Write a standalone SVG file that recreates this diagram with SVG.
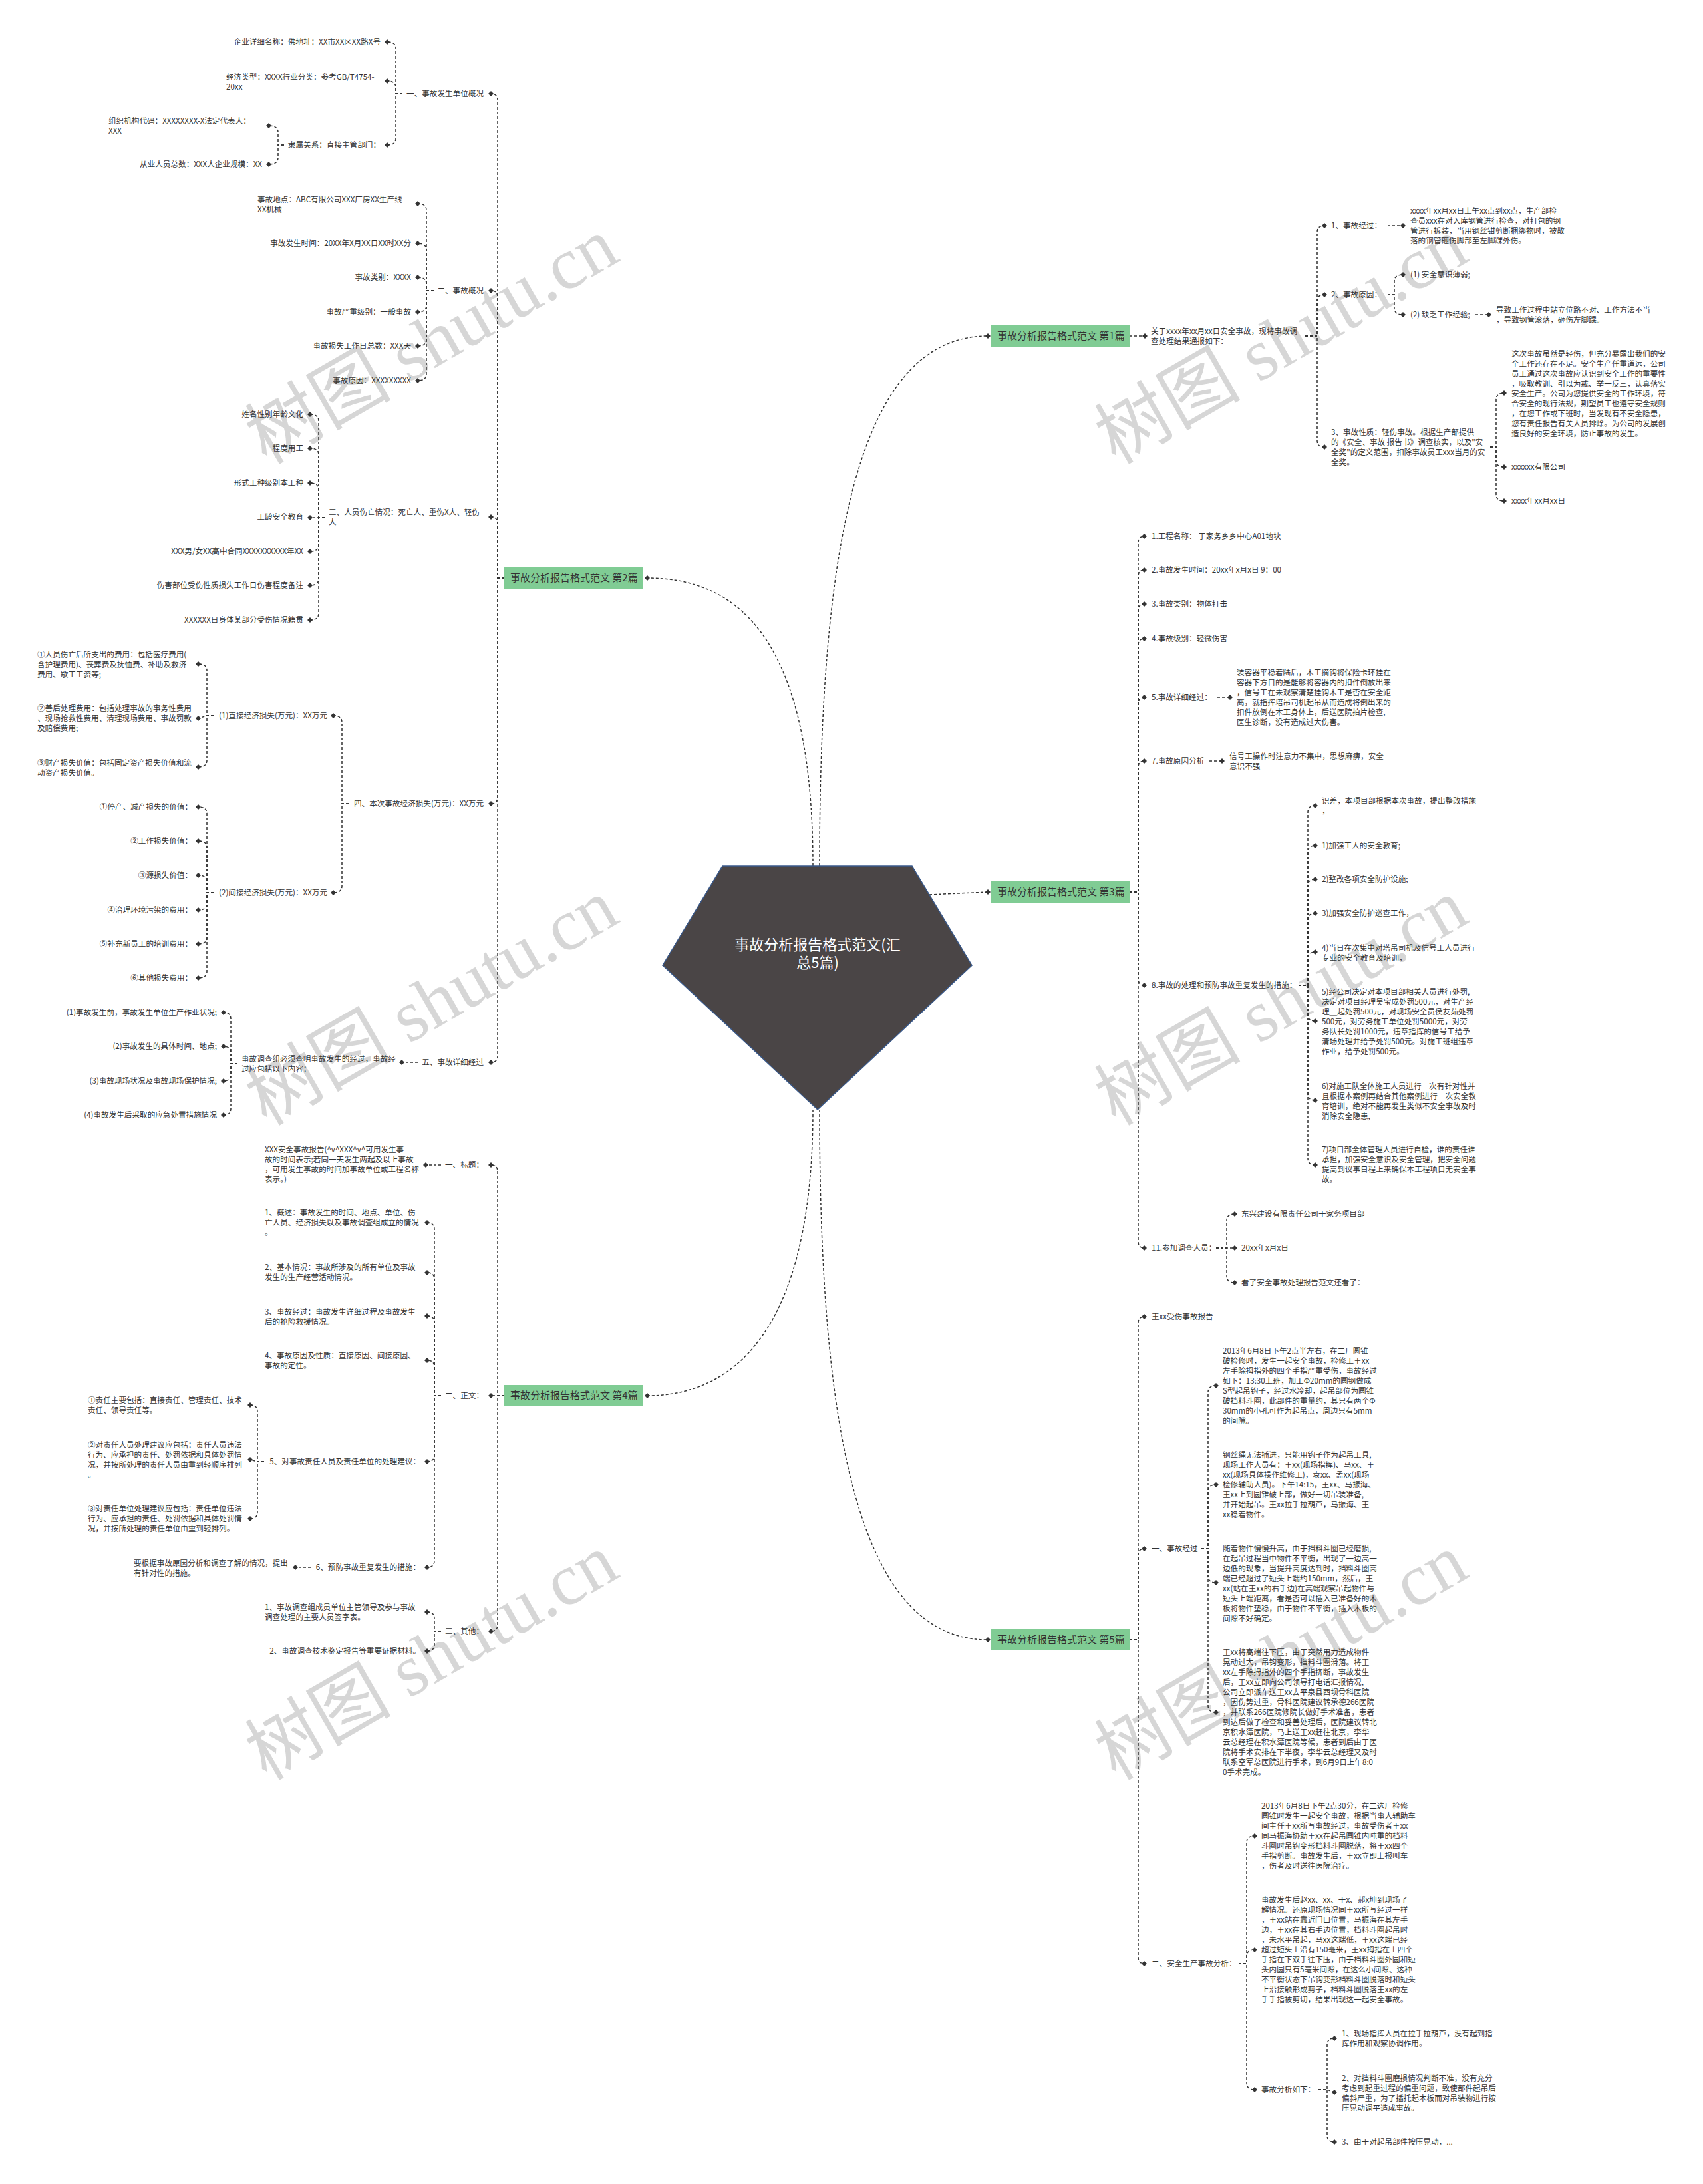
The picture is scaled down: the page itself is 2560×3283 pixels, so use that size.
<svg xmlns="http://www.w3.org/2000/svg" width="2560" height="3283" viewBox="0 0 2560 3283">
<defs>
<style>
.t{font-family:"Noto Sans CJK SC","Liberation Sans",sans-serif;font-size:11.6px;fill:#333}
.e{text-anchor:end}
.c{fill:none;stroke:#333;stroke-width:1.5;stroke-dasharray:4 3;marker-end:url(#d)}
.g{fill:#80cc94}
.gt{font-family:"Noto Sans CJK SC","Liberation Sans",sans-serif;font-size:15px;fill:#333}
.wm{font-family:"Liberation Serif","Noto Sans CJK SC",serif;font-size:110px;fill:#d6d6d6;text-anchor:middle}
</style>
<marker id="d" viewBox="0 0 10 10" refX="5" refY="5" markerWidth="8" markerHeight="8" markerUnits="userSpaceOnUse" orient="0">
<path d="M5,0L10,5L5,10L0,5Z" fill="#333"/>
</marker>
</defs>
<rect width="2560" height="3283" fill="#fff"/>
<g id="watermarks">
<text class="wm" x="649" y="550" transform="rotate(-30 649 513)">树图 shutu.cn</text>
<text class="wm" x="1926" y="550" transform="rotate(-30 1926 513)">树图 shutu.cn</text>
<text class="wm" x="649" y="1544" transform="rotate(-30 649 1507)">树图 shutu.cn</text>
<text class="wm" x="1926" y="1544" transform="rotate(-30 1926 1507)">树图 shutu.cn</text>
<text class="wm" x="649" y="2528" transform="rotate(-30 649 2491)">树图 shutu.cn</text>
<text class="wm" x="1926" y="2528" transform="rotate(-30 1926 2491)">树图 shutu.cn</text>
</g>
<g id="connectors">
<path class="c" d="M1222,1302C1222,960 1110,869 973,869"/>
<path class="c" d="M1232,1302C1232,820 1290,505 1485,505"/>
<path class="c" d="M1397,1345L1485,1341"/>
<path class="c" d="M1222,1668C1222,1990 1110,2098 973,2098"/>
<path class="c" d="M1232,1668C1232,2150 1290,2465 1485,2465"/>
<path class="c" d="M758,869H748V151Q748,141 738,141"/>
<path class="c" d="M758,869H748V447Q748,437 738,437"/>
<path class="c" d="M758,869H748V787Q748,777 738,777"/>
<path class="c" d="M758,869H748V1198Q748,1208 738,1208"/>
<path class="c" d="M758,869H748V1587Q748,1597 738,1597"/>
<path class="c" d="M605,141H595V73Q595,63 582,63"/>
<path class="c" d="M605,141H595V132Q595,122 582,122"/>
<path class="c" d="M605,141H595V208Q595,218 582,218"/>
<path class="c" d="M427,218H418V199Q418,189 404,189"/>
<path class="c" d="M427,218H418V237Q418,247 404,247"/>
<path class="c" d="M652,437H641V316Q641,306 628,306"/>
<path class="c" d="M652,437H641V376Q641,366 628,366"/>
<path class="c" d="M652,437H641V427Q641,417 628,417"/>
<path class="c" d="M652,437H641V459Q641,469 628,469"/>
<path class="c" d="M652,437H641V510Q641,520 628,520"/>
<path class="c" d="M652,437H641V562Q641,572 628,572"/>
<path class="c" d="M488,778H479V633Q479,623 466,623"/>
<path class="c" d="M488,778H479V684Q479,674 466,674"/>
<path class="c" d="M488,778H479V736Q479,726 466,726"/>
<path class="c" d="M488,778H466"/>
<path class="c" d="M488,778H479V819Q479,829 466,829"/>
<path class="c" d="M488,778H479V870Q479,880 466,880"/>
<path class="c" d="M488,778H479V922Q479,932 466,932"/>
<path class="c" d="M524,1208H514V1086Q514,1076 501,1076"/>
<path class="c" d="M524,1208H514V1332Q514,1342 501,1342"/>
<path class="c" d="M321,1076H311V1008Q311,998 298,998"/>
<path class="c" d="M321,1076H311L298,1080"/>
<path class="c" d="M321,1076H311V1143Q311,1153 298,1153"/>
<path class="c" d="M321,1342H311V1223Q311,1213 298,1213"/>
<path class="c" d="M321,1342H311V1274Q311,1264 298,1264"/>
<path class="c" d="M321,1342H311V1326Q311,1316 298,1316"/>
<path class="c" d="M321,1342H311V1358Q311,1368 298,1368"/>
<path class="c" d="M321,1342H311V1409Q311,1419 298,1419"/>
<path class="c" d="M321,1342H311V1460Q311,1470 298,1470"/>
<path class="c" d="M628,1597H604"/>
<path class="c" d="M357,1599H347V1532Q347,1522 336,1522"/>
<path class="c" d="M357,1599H347V1583Q347,1573 336,1573"/>
<path class="c" d="M357,1599H347V1615Q347,1625 336,1625"/>
<path class="c" d="M357,1599H347V1666Q347,1676 336,1676"/>
<path class="c" d="M758,2098H748V1761Q748,1751 738,1751"/>
<path class="c" d="M758,2098H738"/>
<path class="c" d="M758,2098H748V2442Q748,2452 738,2452"/>
<path class="c" d="M663,1751H640"/>
<path class="c" d="M663,2098H653V1848Q653,1838 642,1838"/>
<path class="c" d="M663,2098H653V1923Q653,1913 642,1913"/>
<path class="c" d="M663,2098H653V1988Q653,1978 642,1978"/>
<path class="c" d="M663,2098H653V2055Q653,2045 642,2045"/>
<path class="c" d="M663,2098H653V2187Q653,2197 642,2197"/>
<path class="c" d="M663,2098H653V2346Q653,2356 642,2356"/>
<path class="c" d="M397,2197H387V2122Q387,2112 376,2112"/>
<path class="c" d="M397,2197H387L376,2194"/>
<path class="c" d="M397,2197H387V2273Q387,2283 376,2283"/>
<path class="c" d="M467,2356H444"/>
<path class="c" d="M663,2452H653V2433Q653,2423 642,2423"/>
<path class="c" d="M663,2452H653V2472Q653,2482 642,2482"/>
<path class="c" d="M1698,505H1721"/>
<path class="c" d="M1962,505H1980V349Q1980,339 1991,339"/>
<path class="c" d="M1962,505H1980V453Q1980,443 1991,443"/>
<path class="c" d="M1962,505H1980V662Q1980,672 1991,672"/>
<path class="c" d="M2086,339H2109"/>
<path class="c" d="M2086,443H2096V423Q2096,413 2109,413"/>
<path class="c" d="M2086,443H2096V463Q2096,473 2109,473"/>
<path class="c" d="M2218,473H2238"/>
<path class="c" d="M2240,672H2249V601Q2249,591 2261,591"/>
<path class="c" d="M2240,672H2249V692Q2249,702 2261,702"/>
<path class="c" d="M2240,672H2249V743Q2249,753 2261,753"/>
<path class="c" d="M1698,1341H1711V816Q1711,806 1720,806"/>
<path class="c" d="M1698,1341H1711V867Q1711,857 1720,857"/>
<path class="c" d="M1698,1341H1711V918Q1711,908 1720,908"/>
<path class="c" d="M1698,1341H1711V970Q1711,960 1720,960"/>
<path class="c" d="M1698,1341H1711V1058Q1711,1048 1720,1048"/>
<path class="c" d="M1698,1341H1711V1154Q1711,1144 1720,1144"/>
<path class="c" d="M1698,1341H1711V1471Q1711,1481 1720,1481"/>
<path class="c" d="M1698,1341H1711V1866Q1711,1876 1720,1876"/>
<path class="c" d="M1830,1048H1849"/>
<path class="c" d="M1818,1144H1837"/>
<path class="c" d="M1952,1481H1966V1221Q1966,1211 1977,1211"/>
<path class="c" d="M1952,1481H1966V1281Q1966,1271 1977,1271"/>
<path class="c" d="M1952,1481H1966V1332Q1966,1322 1977,1322"/>
<path class="c" d="M1952,1481H1966V1383Q1966,1373 1977,1373"/>
<path class="c" d="M1952,1481H1966V1441Q1966,1431 1977,1431"/>
<path class="c" d="M1952,1481H1966V1525Q1966,1535 1977,1535"/>
<path class="c" d="M1952,1481H1966V1644Q1966,1654 1977,1654"/>
<path class="c" d="M1952,1481H1966V1741Q1966,1751 1977,1751"/>
<path class="c" d="M1828,1876H1844V1835Q1844,1825 1856,1825"/>
<path class="c" d="M1828,1876H1856"/>
<path class="c" d="M1828,1876H1844V1918Q1844,1928 1856,1928"/>
<path class="c" d="M1698,2465H1711V1989Q1711,1979 1720,1979"/>
<path class="c" d="M1698,2465H1711V2338Q1711,2328 1720,2328"/>
<path class="c" d="M1698,2465H1711V2942Q1711,2952 1720,2952"/>
<path class="c" d="M1806,2328H1816V2093Q1816,2083 1828,2083"/>
<path class="c" d="M1806,2328H1816V2242Q1816,2232 1828,2232"/>
<path class="c" d="M1806,2328H1816V2369Q1816,2379 1828,2379"/>
<path class="c" d="M1806,2328H1816V2564Q1816,2574 1828,2574"/>
<path class="c" d="M1862,2952H1874V2770Q1874,2760 1886,2760"/>
<path class="c" d="M1862,2952H1874V2941Q1874,2931 1886,2931"/>
<path class="c" d="M1862,2952H1874V3131Q1874,3141 1886,3141"/>
<path class="c" d="M1982,3141H1995V3074Q1995,3064 2006,3064"/>
<path class="c" d="M1982,3141H1995L2006,3145"/>
<path class="c" d="M1982,3141H1995V3210Q1995,3220 2006,3220"/>
</g>
<g id="center">
<polygon points="1086,1302 1371,1302 1461,1451 1229,1668 996,1451" fill="#4a4546" stroke="#3a5a8c" stroke-width="1.5"/>
<text x="1229" y="1428" text-anchor="middle" font-family="Noto Sans CJK SC, Liberation Sans, sans-serif" font-size="22" fill="#fff"><tspan x="1229">事故分析报告格式范文(汇</tspan><tspan x="1229" dy="27">总5篇)</tspan></text>
</g>
<g id="b1"><rect class="g" x="1490" y="489" width="208" height="32"/><text class="gt" x="1499" y="510">事故分析报告格式范文 第1篇</text></g>
<g id="b2"><rect class="g" x="758" y="853" width="209" height="32"/><text class="gt" x="767" y="874">事故分析报告格式范文 第2篇</text></g>
<g id="b3"><rect class="g" x="1490" y="1325" width="208" height="32"/><text class="gt" x="1499" y="1346">事故分析报告格式范文 第3篇</text></g>
<g id="b4"><rect class="g" x="758" y="2082" width="209" height="32"/><text class="gt" x="767" y="2103">事故分析报告格式范文 第4篇</text></g>
<g id="b5"><rect class="g" x="1490" y="2449" width="208" height="32"/><text class="gt" x="1499" y="2470">事故分析报告格式范文 第5篇</text></g>
<g id="p2-nodes">
<text id="a1" class="t e" x="727" y="145">一、事故发生单位概况</text>
<text id="a2" class="t e" x="727" y="441">二、事故概况</text>
<text id="a3" class="t" x="494" y="774"><tspan x="494">三、人员伤亡情况：死亡人、重伤X人、轻伤</tspan><tspan x="494" dy="15">人</tspan></text>
<text id="a4" class="t e" x="727" y="1212">四、本次事故经济损失(万元)：XX万元</text>
<text id="a5" class="t e" x="727" y="1601">五、事故详细经过</text>
<text class="t e" x="572" y="67">企业详细名称：佛地址：XX市XX区XX路X号</text>
<text class="t" x="340" y="120"><tspan x="340">经济类型：XXXX行业分类：参考GB/T4754-</tspan><tspan x="340" dy="15">20xx</tspan></text>
<text class="t e" x="572" y="222">隶属关系：直接主管部门：</text>
<text class="t" x="163" y="186"><tspan x="163">组织机构代码：XXXXXXXX-X法定代表人：</tspan><tspan x="163" dy="15">XXX</tspan></text>
<text class="t e" x="394" y="251">从业人员总数：XXX人企业规模：XX</text>
<text class="t" x="387" y="304"><tspan x="387">事故地点：ABC有限公司XXX厂房XX生产线</tspan><tspan x="387" dy="15">XX机械</tspan></text>
<text class="t e" x="618" y="370">事故发生时间：20XX年X月XX日XX时XX分</text>
<text class="t e" x="618" y="421">事故类别：XXXX</text>
<text class="t e" x="618" y="473">事故严重级别：一般事故</text>
<text class="t e" x="618" y="524">事故损失工作日总数：XXX天</text>
<text class="t e" x="618" y="576">事故原因：XXXXXXXXX</text>
<text class="t e" x="456" y="627">姓名性别年龄文化</text>
<text class="t e" x="456" y="678">程度用工</text>
<text class="t e" x="456" y="730">形式工种级别本工种</text>
<text class="t e" x="456" y="781">工龄安全教育</text>
<text class="t e" x="456" y="833">XXX男/女XX高中合同XXXXXXXXXX年XX</text>
<text class="t e" x="456" y="884">伤害部位受伤性质损失工作日伤害程度备注</text>
<text class="t e" x="456" y="936">XXXXXX日身体某部分受伤情况籍贯</text>
<text class="t e" x="492" y="1080">(1)直接经济损失(万元)：XX万元</text>
<text class="t e" x="492" y="1346">(2)间接经济损失(万元)：XX万元</text>
<text class="t" x="56" y="988"><tspan x="56">①人员伤亡后所支出的费用：包括医疗费用(</tspan><tspan x="56" dy="15">含护理费用)、丧葬费及抚恤费、补助及救济</tspan><tspan x="56" dy="15">费用、歇工工资等;</tspan></text>
<text class="t" x="56" y="1069"><tspan x="56">②善后处理费用：包括处理事故的事务性费用</tspan><tspan x="56" dy="15">、现场抢救性费用、清理现场费用、事故罚款</tspan><tspan x="56" dy="15">及赔偿费用;</tspan></text>
<text class="t" x="56" y="1151"><tspan x="56">③财产损失价值：包括固定资产损失价值和流</tspan><tspan x="56" dy="15">动资产损失价值。</tspan></text>
<text class="t e" x="289" y="1217">①停产、减产损失的价值：</text>
<text class="t e" x="289" y="1268">②工作损失价值：</text>
<text class="t e" x="289" y="1320">③源损失价值：</text>
<text class="t e" x="289" y="1372">④治理环境污染的费用：</text>
<text class="t e" x="289" y="1423">⑤补充新员工的培训费用：</text>
<text class="t e" x="289" y="1474">⑥其他损失费用：</text>
<text class="t" x="363" y="1596"><tspan x="363">事故调查组必须查明事故发生的经过，事故经</tspan><tspan x="363" dy="15">过应包括以下内容：</tspan></text>
<text class="t e" x="326" y="1526">(1)事故发生前，事故发生单位生产作业状况;</text>
<text class="t e" x="326" y="1577">(2)事故发生的具体时间、地点;</text>
<text class="t e" x="326" y="1629">(3)事故现场状况及事故现场保护情况;</text>
<text class="t e" x="326" y="1680">(4)事故发生后采取的应急处置措施情况</text>
</g>
<g id="p4-nodes">
<text class="t e" x="727" y="1755">一、标题：</text>
<text class="t e" x="727" y="2102">二、正文：</text>
<text class="t e" x="727" y="2456">三、其他：</text>
<text class="t" x="398" y="1732"><tspan x="398">XXX安全事故报告(^v^XXX^v^可用发生事</tspan><tspan x="398" dy="15">故的时间表示;若同一天发生两起及以上事故</tspan><tspan x="398" dy="15">，可用发生事故的时间加事故单位或工程名称</tspan><tspan x="398" dy="15">表示。)</tspan></text>
<text class="t" x="398" y="1827"><tspan x="398">1、概述：事故发生的时间、地点、单位、伤</tspan><tspan x="398" dy="15">亡人员、经济损失以及事故调查组成立的情况</tspan><tspan x="398" dy="15">。</tspan></text>
<text class="t" x="398" y="1909"><tspan x="398">2、基本情况：事故所涉及的所有单位及事故</tspan><tspan x="398" dy="15">发生的生产经营活动情况。</tspan></text>
<text class="t" x="398" y="1976"><tspan x="398">3、事故经过：事故发生详细过程及事故发生</tspan><tspan x="398" dy="15">后的抢险救援情况。</tspan></text>
<text class="t" x="398" y="2042"><tspan x="398">4、事故原因及性质：直接原因、间接原因、</tspan><tspan x="398" dy="15">事故的定性。</tspan></text>
<text class="t e" x="632" y="2201">5、对事故责任人员及责任单位的处理建议：</text>
<text class="t e" x="632" y="2360">6、预防事故重复发生的措施：</text>
<text class="t" x="132" y="2109"><tspan x="132">①责任主要包括：直接责任、管理责任、技术</tspan><tspan x="132" dy="15">责任、领导责任等。</tspan></text>
<text class="t" x="132" y="2176"><tspan x="132">②对责任人员处理建议应包括：责任人员违法</tspan><tspan x="132" dy="15">行为、应承担的责任、处罚依据和具体处罚情</tspan><tspan x="132" dy="15">况，并按所处理的责任人员由重到轻顺序排列</tspan><tspan x="132" dy="15">。</tspan></text>
<text class="t" x="132" y="2272"><tspan x="132">③对责任单位处理建议应包括：责任单位违法</tspan><tspan x="132" dy="15">行为、应承担的责任、处罚依据和具体处罚情</tspan><tspan x="132" dy="15">况，并按所处理的责任单位由重到轻排列。</tspan></text>
<text class="t" x="201" y="2354"><tspan x="201">要根据事故原因分析和调查了解的情况，提出</tspan><tspan x="201" dy="15">有针对性的措施。</tspan></text>
<text class="t" x="398" y="2420"><tspan x="398">1、事故调查组成员单位主管领导及参与事故</tspan><tspan x="398" dy="15">调查处理的主要人员签字表。</tspan></text>
<text class="t e" x="632" y="2486">2、事故调查技术鉴定报告等重要证据材料。</text>
</g>
<g id="p1-nodes">
<text class="t" x="1730" y="502"><tspan x="1730">关于xxxx年xx月xx日安全事故，现将事故调</tspan><tspan x="1730" dy="15">查处理结果通报如下：</tspan></text>
<text class="t" x="2001" y="343">1、事故经过：</text>
<text class="t" x="2120" y="321"><tspan x="2120">xxxx年xx月xx日上午xx点到xx点，生产部检</tspan><tspan x="2120" dy="15">查员xxx在对入库钢管进行检查，对打包的钢</tspan><tspan x="2120" dy="15">管进行拆装，当用钢丝钳剪断捆绑物时，被散</tspan><tspan x="2120" dy="15">落的钢管砸伤脚部至左脚踝外伤。</tspan></text>
<text class="t" x="2001" y="447">2、事故原因：</text>
<text class="t" x="2120" y="417">(1) 安全意识薄弱;</text>
<text class="t" x="2120" y="477">(2) 缺乏工作经验;</text>
<text class="t" x="2249" y="470"><tspan x="2249">导致工作过程中站立位路不对、工作方法不当</tspan><tspan x="2249" dy="15">，导致钢管滚落，砸伤左脚踝。</tspan></text>
<text class="t" x="2001" y="654"><tspan x="2001">3、事故性质：轻伤事故。根据生产部提供</tspan><tspan x="2001" dy="15">的《安全、事故 报告书》调查核实，以及"安</tspan><tspan x="2001" dy="15">全奖"的定义范围，扣除事故员工xxx当月的安</tspan><tspan x="2001" dy="15">全奖。</tspan></text>
<text class="t" x="2272" y="536"><tspan x="2272">这次事故虽然是轻伤，但充分暴露出我们的安</tspan><tspan x="2272" dy="15">全工作还存在不足。安全生产任重道远，公司</tspan><tspan x="2272" dy="15">员工通过这次事故应认识到安全工作的重要性</tspan><tspan x="2272" dy="15">，吸取教训、引以为戒、举一反三，认真落实</tspan><tspan x="2272" dy="15">安全生产。公司为您提供安全的工作环境，符</tspan><tspan x="2272" dy="15">合安全的现行法规，期望员工也遵守安全规则</tspan><tspan x="2272" dy="15">，在您工作或下班时，当发现有不安全隐患，</tspan><tspan x="2272" dy="15">您有责任报告有关人员排除。为公司的发展创</tspan><tspan x="2272" dy="15">造良好的安全环境，防止事故的发生。</tspan></text>
<text class="t" x="2272" y="706">xxxxxx有限公司</text>
<text class="t" x="2272" y="757">xxxx年xx月xx日</text>
</g>
<g id="p3-nodes">
<text class="t" x="1731" y="810">1.工程名称： 于家务乡乡中心A01地块</text>
<text class="t" x="1731" y="861">2.事故发生时间：20xx年x月x日 9：00</text>
<text class="t" x="1731" y="912">3.事故类别：物体打击</text>
<text class="t" x="1731" y="964">4.事故级别：轻微伤害</text>
<text class="t" x="1731" y="1052">5.事故详细经过：</text>
<text class="t" x="1859" y="1015"><tspan x="1859">装容器平稳着陆后，木工摘钩将保险卡环挂在</tspan><tspan x="1859" dy="15">容器下方目的是能够将容器内的扣件倒放出来</tspan><tspan x="1859" dy="15">，信号工在未观察清楚挂钩木工是否在安全距</tspan><tspan x="1859" dy="15">离，就指挥塔吊司机起吊从而造成将倒出来的</tspan><tspan x="1859" dy="15">扣件放倒在木工身体上，后送医院拍片检查,</tspan><tspan x="1859" dy="15">医生诊断，没有造成过大伤害。</tspan></text>
<text class="t" x="1731" y="1148">7.事故原因分析</text>
<text class="t" x="1848" y="1141"><tspan x="1848">信号工操作时注意力不集中，思想麻痹，安全</tspan><tspan x="1848" dy="15">意识不强</tspan></text>
<text class="t" x="1731" y="1485">8.事故的处理和预防事故重复发生的措施：</text>
<text class="t" x="1987" y="1208"><tspan x="1987">识差，本项目部根据本次事故，提出整改措施</tspan><tspan x="1987" dy="15">，</tspan></text>
<text class="t" x="1987" y="1275">1)加强工人的安全教育;</text>
<text class="t" x="1987" y="1326">2)整改各项安全防护设施;</text>
<text class="t" x="1987" y="1377">3)加强安全防护巡查工作，</text>
<text class="t" x="1987" y="1429"><tspan x="1987">4)当日在次集中对塔吊司机及信号工人员进行</tspan><tspan x="1987" dy="15">专业的安全教育及培训，</tspan></text>
<text class="t" x="1987" y="1495"><tspan x="1987">5)经公司决定对本项目部相关人员进行处罚,</tspan><tspan x="1987" dy="15">决定对项目经理吴宝成处罚500元，对生产经</tspan><tspan x="1987" dy="15">理＿起处罚500元，对现场安全员侯友茹处罚</tspan><tspan x="1987" dy="15">500元，对劳务施工单位处罚5000元，对劳</tspan><tspan x="1987" dy="15">务队长处罚1000元，违章指挥的信号工给予</tspan><tspan x="1987" dy="15">清场处理并给予处罚500元。对施工班组违章</tspan><tspan x="1987" dy="15">作业，给予处罚500元。</tspan></text>
<text class="t" x="1987" y="1637"><tspan x="1987">6)对施工队全体施工人员进行一次有针对性并</tspan><tspan x="1987" dy="15">且根据本案例再结合其他案例进行一次安全教</tspan><tspan x="1987" dy="15">育培训，绝对不能再发生类似不安全事故及时</tspan><tspan x="1987" dy="15">消除安全隐患,</tspan></text>
<text class="t" x="1987" y="1732"><tspan x="1987">7)项目部全体管理人员进行自检，谁的责任谁</tspan><tspan x="1987" dy="15">承担，加强安全意识及安全管理，把安全问题</tspan><tspan x="1987" dy="15">提高到议事日程上来确保本工程项目无安全事</tspan><tspan x="1987" dy="15">故。</tspan></text>
<text class="t" x="1731" y="1880">11.参加调查人员：</text>
<text class="t" x="1866" y="1829">东兴建设有限责任公司于家务项目部</text>
<text class="t" x="1866" y="1880">20xx年x月x日</text>
<text class="t" x="1866" y="1932">看了安全事故处理报告范文还看了：</text>
</g>
<g id="p5-nodes">
<text class="t" x="1731" y="1983">王xx受伤事故报告</text>
<text class="t" x="1731" y="2332">一、事故经过</text>
<text class="t" x="1838" y="2035"><tspan x="1838">2013年6月8日下午2点半左右，在二厂圆锥</tspan><tspan x="1838" dy="15">破检修时，发生一起安全事故，检修工王xx</tspan><tspan x="1838" dy="15">左手除拇指外的四个手指严重受伤，事故经过</tspan><tspan x="1838" dy="15">如下：13:30上班，加工Φ20mm的圆钢做成</tspan><tspan x="1838" dy="15">S型起吊钩子，经过水冷却，起吊部位为圆锥</tspan><tspan x="1838" dy="15">破挡料斗圈，此部件的重量约，其只有两个Φ</tspan><tspan x="1838" dy="15">30mm的小孔可作为起吊点，周边只有5mm</tspan><tspan x="1838" dy="15">的间隙。</tspan></text>
<text class="t" x="1838" y="2191"><tspan x="1838">钢丝绳无法插进，只能用钩子作为起吊工具,</tspan><tspan x="1838" dy="15">现场工作人员有：王xx(现场指挥)、马xx、王</tspan><tspan x="1838" dy="15">xx(现场具体操作维修工)，袁xx、孟xx(现场</tspan><tspan x="1838" dy="15">检修辅助人员)。下午14:15，王xx、马振海、</tspan><tspan x="1838" dy="15">王xx上到圆锥破上部，做好一切吊装准备,</tspan><tspan x="1838" dy="15">并开始起吊。王xx拉手拉葫芦，马振海、王</tspan><tspan x="1838" dy="15">xx稳着物件。</tspan></text>
<text class="t" x="1838" y="2332"><tspan x="1838">随着物件慢慢升高，由于挡料斗圈已经磨损,</tspan><tspan x="1838" dy="15">在起吊过程当中物件不平衡，出现了一边高一</tspan><tspan x="1838" dy="15">边低的现象，当提升高度达到时，挡料斗圈高</tspan><tspan x="1838" dy="15">端已经超过了短头上端约150mm，然后，王</tspan><tspan x="1838" dy="15">xx(站在王xx的右手边)在高端观察吊起物件与</tspan><tspan x="1838" dy="15">短头上端距离，看是否可以插入已准备好的木</tspan><tspan x="1838" dy="15">板将物件垫稳，由于物件不平衡，插入木板的</tspan><tspan x="1838" dy="15">间隙不好确定。</tspan></text>
<text class="t" x="1838" y="2488"><tspan x="1838">王xx将高端往下压，由于突然用力造成物件</tspan><tspan x="1838" dy="15">晃动过大，吊钩变形，挡料斗圈滑落。将王</tspan><tspan x="1838" dy="15">xx左手除拇指外的四个手指挤断，事故发生</tspan><tspan x="1838" dy="15">后，王xx立即向公司领导打电话汇报情况,</tspan><tspan x="1838" dy="15">公司立即派车送王xx去平泉县西坝骨科医院</tspan><tspan x="1838" dy="15">，因伤势过重，骨科医院建议转承德266医院</tspan><tspan x="1838" dy="15">，并联系266医院修院长做好手术准备，患者</tspan><tspan x="1838" dy="15">到达后做了检查和妥善处理后，医院建议转北</tspan><tspan x="1838" dy="15">京积水潭医院，马上送王xx赶往北京，李华</tspan><tspan x="1838" dy="15">云总经理在积水潭医院等候，患者到后由于医</tspan><tspan x="1838" dy="15">院将手术安排在下半夜，李华云总经理又及时</tspan><tspan x="1838" dy="15">联系空军总医院进行手术，到6月9日上午8:0</tspan><tspan x="1838" dy="15">0手术完成。</tspan></text>
<text class="t" x="1731" y="2956">二、安全生产事故分析：</text>
<text class="t" x="1896" y="2719"><tspan x="1896">2013年6月8日下午2点30分，在二选厂检修</tspan><tspan x="1896" dy="15">圆锥时发生一起安全事故，根据当事人辅助车</tspan><tspan x="1896" dy="15">间主任王xx所写事故经过，事故受伤者王xx</tspan><tspan x="1896" dy="15">同马振海协助王xx在起吊圆锥内吨重的档料</tspan><tspan x="1896" dy="15">斗圈时吊钩变形档料斗圈脱落，将王xx四个</tspan><tspan x="1896" dy="15">手指剪断。事故发生后，王xx立即上报叫车</tspan><tspan x="1896" dy="15">，伤者及时送往医院治疗。</tspan></text>
<text class="t" x="1896" y="2860"><tspan x="1896">事故发生后赵xx、xx、于x、郝x坤到现场了</tspan><tspan x="1896" dy="15">解情况。还原现场情况同王xx所写经过一样</tspan><tspan x="1896" dy="15">，王xx站在靠近门口位置，马振海在其左手</tspan><tspan x="1896" dy="15">边，王xx在其右手边位置，档料斗圈起吊时</tspan><tspan x="1896" dy="15">，未水平吊起，马xx这端低，王xx这端已经</tspan><tspan x="1896" dy="15">超过短头上沿有150毫米，王xx拇指在上四个</tspan><tspan x="1896" dy="15">手指在下双手往下压，由于档料斗圈外圆和短</tspan><tspan x="1896" dy="15">头内圆只有5毫米间隙，在这么小间隙、这种</tspan><tspan x="1896" dy="15">不平衡状态下吊钩变形档料斗圈脱落时和短头</tspan><tspan x="1896" dy="15">上沿接触形成剪子，档料斗圈脱落王xx的左</tspan><tspan x="1896" dy="15">手手指被剪切，结果出现这一起安全事故。</tspan></text>
<text class="t" x="1896" y="3145">事故分析如下：</text>
<text class="t" x="2017" y="3061"><tspan x="2017">1、现场指挥人员在拉手拉葫芦，没有起到指</tspan><tspan x="2017" dy="15">挥作用和观察协调作用。</tspan></text>
<text class="t" x="2017" y="3128"><tspan x="2017">2、对挡料斗圈磨损情况判断不准，没有充分</tspan><tspan x="2017" dy="15">考虑到起重过程的偏重问题，致使部件起吊后</tspan><tspan x="2017" dy="15">偏斜严重，为了插托起木板而对吊装物进行按</tspan><tspan x="2017" dy="15">压晃动调平造成事故。</tspan></text>
<text class="t" x="2017" y="3224">3、由于对起吊部件按压晃动，...</text>
</g>
</svg>
